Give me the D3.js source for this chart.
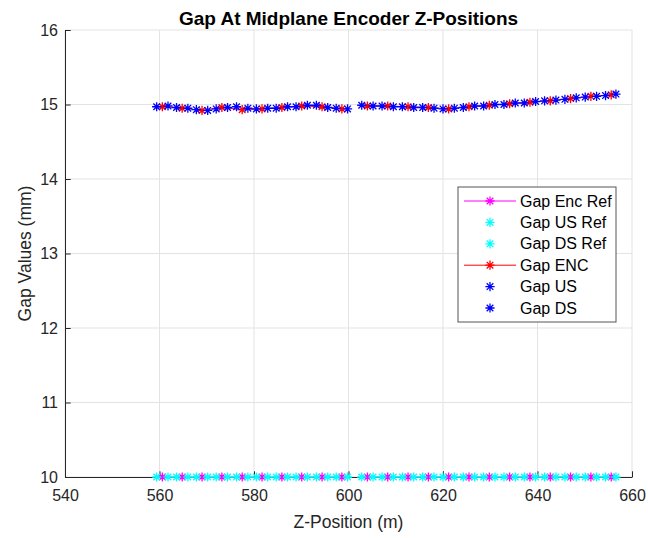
<!DOCTYPE html>
<html>
<head>
<meta charset="utf-8">
<script src="https://cdn.jsdelivr.net/npm/d3@7"></script>
<style>
  body { margin: 0; background: #fff; overflow: hidden; }
  svg { display: block; }
</style>
</head>
<body>
<div id="chart"></div>
<script>
// gap at midplane encoder z-positions (null = break between the two sections)
const xTicks = [540, 560, 580, 600, 620, 640, 660];
const yTicks = [10, 11, 12, 13, 14, 15, 16];

const encZ = [560.6, 564.8, 569.0, 573.2, 577.5, 581.7, 585.9, 590.1, 594.4, 598.6, null,
    604.0, 608.3, 612.6, 616.9, 621.2, 625.5, 629.8, 634.1, 638.4, 642.7, 647.0, 651.3, 655.6];
const usZ = [559.4, 563.6, 567.8, 572.0, 576.3, 580.5, 584.7, 588.9, 593.2, 597.4, null,
    602.8, 607.1, 611.4, 615.7, 620.0, 624.3, 628.6, 632.9, 637.2, 641.5, 645.8, 650.1, 654.4];
const dsZ = [561.8, 566.0, 570.2, 574.4, 578.7, 582.9, 587.1, 591.3, 595.6, 599.8, null,
    605.2, 609.5, 613.8, 618.1, 622.4, 626.7, 631.0, 635.3, 639.6, 643.9, 648.2, 652.5, 656.6];

const gapEncRef = [10, 10, 10, 10, 10, 10, 10, 10, 10, 10, null,
    10, 10, 10, 10, 10, 10, 10, 10, 10, 10, 10, 10, 10];
const gapUsRef = [10, 10, 10, 10, 10, 10, 10, 10, 10, 10, null,
    10, 10, 10, 10, 10, 10, 10, 10, 10, 10, 10, 10, 10];
const gapDsRef = [10, 10, 10, 10, 10, 10, 10, 10, 10, 10, null,
    10, 10, 10, 10, 10, 10, 10, 10, 10, 10, 10, 10, 10];

const gapEnc = [14.97, 14.95, 14.92, 14.96, 14.93, 14.94, 14.96, 14.98, 14.97, 14.94, null,
    14.98, 14.98, 14.97, 14.96, 14.94, 14.97, 14.99, 15.01, 15.03, 15.05, 15.08, 15.11, 15.13];
const gapUs = [14.97, 14.96, 14.93, 14.94, 14.97, 14.94, 14.95, 14.97, 14.99, 14.95, null,
    14.99, 14.98, 14.97, 14.96, 14.94, 14.96, 14.98, 15.00, 15.02, 15.05, 15.07, 15.10, 15.12];
const gapDs = [14.98, 14.95, 14.92, 14.96, 14.95, 14.95, 14.97, 14.99, 14.96, 14.94, null,
    14.98, 14.97, 14.96, 14.95, 14.95, 14.98, 15.00, 15.02, 15.04, 15.06, 15.09, 15.11, 15.14];

const legendLabels = ["Gap Enc Ref", "Gap US Ref", "Gap DS Ref", "Gap ENC", "Gap US", "Gap DS"];

const width = 648, height = 538;
const margin = { top: 30, right: 16, bottom: 61, left: 65 };
const innerWidth = width - margin.left - margin.right;
const innerHeight = height - margin.top - margin.bottom;
const axisColor = "#262626";
const fontFamily = "Liberation Sans, Arial, Helvetica, sans-serif";

const series = [
    { z: encZ, v: gapEncRef, color: "#ff00ff", line: true },
    { z: usZ, v: gapUsRef, color: "#00ffff", line: false },
    { z: dsZ, v: gapDsRef, color: "#00ffff", line: false },
    { z: encZ, v: gapEnc, color: "#ff0000", line: true },
    { z: usZ, v: gapUs, color: "#0000ff", line: false },
    { z: dsZ, v: gapDs, color: "#0000ff", line: false }
];

const svg = d3.select("#chart").append("svg")
    .attr("width", width).attr("height", height)
    .attr("font-family", fontFamily);
const g = svg.append("g").attr("transform", `translate(${margin.left},${margin.top})`);

const x = d3.scaleLinear().domain([540, 660]).range([0, innerWidth]);
const y = d3.scaleLinear().domain([10, 16]).range([innerHeight, 0]);

// grid
g.append("g").selectAll("line").data(xTicks).enter().append("line")
    .attr("x1", d => x(d)).attr("x2", d => x(d)).attr("y1", 0).attr("y2", innerHeight)
    .attr("stroke", "#e3e3e3").attr("stroke-width", 1);
g.append("g").selectAll("line").data(yTicks).enter().append("line")
    .attr("y1", d => y(d)).attr("y2", d => y(d)).attr("x1", 0).attr("x2", innerWidth)
    .attr("stroke", "#e3e3e3").attr("stroke-width", 1);

// axes, ticks point inward like matlab
g.append("g").attr("transform", `translate(0,${innerHeight})`)
    .call(d3.axisBottom(x).tickValues(xTicks).tickFormat(d3.format("d"))
        .tickSizeInner(-5.7).tickSizeOuter(0).tickPadding(13))
    .attr("font-size", 16).attr("font-family", fontFamily)
    .call(a => a.selectAll("text").attr("fill", axisColor))
    .call(a => a.selectAll("line, path").attr("stroke", axisColor));
g.append("g")
    .call(d3.axisLeft(y).tickValues(yTicks).tickFormat(d3.format("d"))
        .tickSizeInner(-5.7).tickSizeOuter(0).tickPadding(7))
    .attr("font-size", 16).attr("font-family", fontFamily)
    .call(a => a.selectAll("text").attr("fill", axisColor))
    .call(a => a.selectAll("line, path").attr("stroke", axisColor));

// asterisk marker, + and x together
function star(cx, cy, r) {
    const d = r * 0.72;
    return `M${cx - r},${cy}H${cx + r}M${cx},${cy - r}V${cy + r}` +
        `M${cx - d},${cy - d}L${cx + d},${cy + d}M${cx - d},${cy + d}L${cx + d},${cy - d}`;
}

const line = d3.line()
    .defined(d => d[0] != null && d[1] != null)
    .x(d => x(d[0])).y(d => y(d[1]));

series.forEach(s => {
    const pts = s.z.map((z, i) => [z, s.v[i]]);
    if (s.line) {
        g.append("path").datum(pts).attr("d", line)
            .attr("fill", "none").attr("stroke", s.color).attr("stroke-width", 1);
    }
    g.append("path")
        .attr("d", pts.filter(p => p[0] != null).map(p => star(x(p[0]), y(p[1]), 4.6)).join(""))
        .attr("fill", "none").attr("stroke", s.color).attr("stroke-width", 1.3);
});

// title and labels
svg.append("text").attr("x", margin.left + innerWidth / 2).attr("y", 25)
    .attr("text-anchor", "middle").attr("font-size", 19).attr("font-weight", "bold")
    .attr("fill", "#000").text("Gap At Midplane Encoder Z-Positions");
svg.append("text").attr("x", margin.left + innerWidth / 2).attr("y", 528)
    .attr("text-anchor", "middle").attr("font-size", 17.5)
    .attr("fill", axisColor).text("Z-Position (m)");
svg.append("text").attr("transform", `translate(31,${margin.top + innerHeight / 2}) rotate(-90)`)
    .attr("text-anchor", "middle").attr("font-size", 17.5)
    .attr("fill", axisColor).text("Gap Values (mm)");

// legend
const leg = svg.append("g").attr("transform", "translate(458,187)");
leg.append("rect").attr("width", 158).attr("height", 135)
    .attr("fill", "#fff").attr("stroke", "#555").attr("stroke-width", 1);
const rowY = d3.scalePoint().domain(legendLabels).range([14, 121]);
legendLabels.forEach((lab, i) => {
    const s = series[i], ry = rowY(lab);
    if (s.line) {
        leg.append("line").attr("x1", 6).attr("x2", 58).attr("y1", ry).attr("y2", ry)
            .attr("stroke", s.color).attr("stroke-width", 1);
    }
    leg.append("path").attr("d", star(32, ry, 4.6))
        .attr("fill", "none").attr("stroke", s.color).attr("stroke-width", 1.3);
    leg.append("text").attr("x", 62).attr("y", ry).attr("dy", "0.35em")
        .attr("font-size", 16).attr("fill", "#000").text(lab);
});
</script>
</body>
</html>
